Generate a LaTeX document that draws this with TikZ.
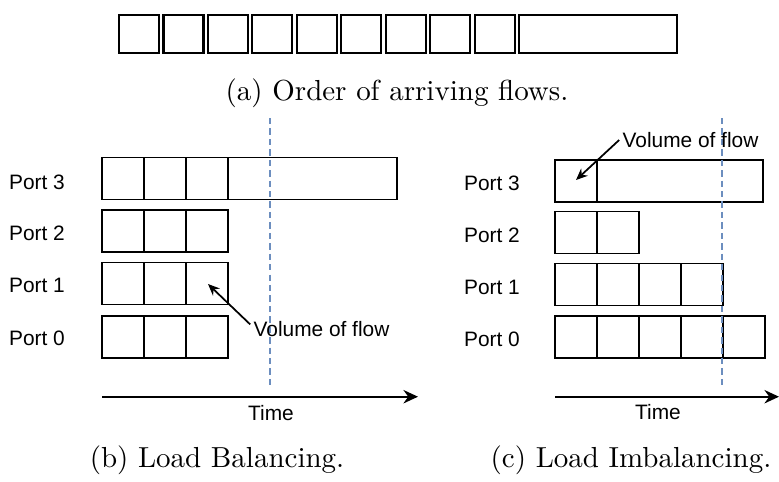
\documentclass[tikz,border=0pt]{standalone}
\usepackage{fontspec}
\usepackage{xcolor}
\newfontfamily\drawfont{Liberation Sans}
\usetikzlibrary{arrows.meta, positioning}
\definecolor{DashBlue}{HTML}{6C8EBF}

\begin{document}
\begin{tikzpicture}[
    x=0.345pt, y=0.345pt,
    >=Stealth,
    flowbox/.style={
        draw=black,
        line width=0.7pt,
        minimum width=13.8pt,
        minimum height=13.1pt,
        inner sep=0pt,
        outer sep=0pt
    },
    cell/.style={
        draw=black,
        line width=0.6pt,
        minimum size=14.5pt,
        inner sep=0pt,
        outer sep=0pt
    },
    portlabel/.style={
        font=\drawfont\fontsize{7.2}{8.6}\selectfont,
        text=black,
        inner sep=0pt
    },
    caption/.style={
        font=\normalsize,
        inner sep=0pt
    },
    timeline/.style={
        line width=0.8pt,
        -{Stealth[length=5pt, width=4.6pt]}
    },
    pointer/.style={
        line width=0.6pt,
        -{Stealth[length=4pt, width=3.4pt]}
    },
    cutline/.style={
        draw=DashBlue,
        line width=0.55pt,
        dash pattern=on 2.2pt off 1.4pt
    }
]
\useasboundingbox (0,0) rectangle (779,481);

% (a) arriving flows
\node[flowbox, anchor=west] (a1) at (119,447) {};
\node[flowbox, right=1.55pt of a1] (a2) {};
\node[flowbox, right=1.55pt of a2] (a3) {};
\node[flowbox, right=1.55pt of a3] (a4) {};
\node[flowbox, right=1.55pt of a4] (a5) {};
\node[flowbox, right=1.55pt of a5] (a6) {};
\node[flowbox, right=1.55pt of a6] (a7) {};
\node[flowbox, right=1.55pt of a7] (a8) {};
\node[flowbox, right=1.55pt of a8] (a9) {};
\node[flowbox, right=1.55pt of a9, minimum width=54.3pt] (a10) {};
\node[caption] (capa) at (397,388) {(a) Order of arriving flows.};

% (b) load balancing
\node[portlabel] (lb3) at (37,299) {Port 3};
\node[portlabel] (lb2) at (37,248) {Port 2};
\node[portlabel] (lb1) at (37,196) {Port 1};
\node[portlabel] (lb0) at (37,143) {Port 0};

\node[cell, anchor=west] (b3a) at (102,302.5) {};
\node[cell, right=0pt of b3a] (b3b) {};
\node[cell, right=0pt of b3b] (b3c) {};
\node[cell, right=0pt of b3c, minimum width=58.3pt] (b3d) {};

\node[cell, anchor=west] (b2a) at (102,250) {};
\node[cell, right=0pt of b2a] (b2b) {};
\node[cell, right=0pt of b2b] (b2c) {};

\node[cell, anchor=west] (b1a) at (102,197.5) {};
\node[cell, right=0pt of b1a] (b1b) {};
\node[cell, right=0pt of b1b] (b1c) {};

\node[cell, anchor=west] (b0a) at (102,144) {};
\node[cell, right=0pt of b0a] (b0b) {};
\node[cell, right=0pt of b0b] (b0c) {};

\coordinate (bcuttop) at (270,363);
\coordinate (bcutbot) at (270,93);
\draw[cutline] (bcuttop) -- (bcutbot);

\node[portlabel] (vb) at (321.5,152) {Volume of flow};
\coordinate (vbtip) at (208,197);
\draw[pointer] ([xshift=-1pt, yshift=1.6pt]vb.west) -- (vbtip);

\coordinate (btstart) at (102,84.3);
\coordinate (btend) at (418,84.3);
\draw[timeline] (btstart) -- (btend);
\node[portlabel] (tb) at (271,68) {Time};
\node[caption] (capb) at (217,21) {(b) Load Balancing.};

% (c) load imbalancing
\node[portlabel] (lc3) at (492,298) {Port 3};
\node[portlabel] (lc2) at (492,246) {Port 2};
\node[portlabel] (lc1) at (492,194) {Port 1};
\node[portlabel] (lc0) at (492,142) {Port 0};

\node[cell, anchor=west] (c3a) at (555,300) {};
\node[cell, right=0pt of c3a, minimum width=57.3pt] (c3b) {};

\node[cell, anchor=west] (c2a) at (555,248.5) {};
\node[cell, right=0pt of c2a] (c2b) {};

\node[cell, anchor=west] (c1a) at (555,196.5) {};
\node[cell, right=0pt of c1a] (c1b) {};
\node[cell, right=0pt of c1b] (c1c) {};
\node[cell, right=0pt of c1c] (c1d) {};

\node[cell, anchor=west] (c0a) at (555,144.3) {};
\node[cell, right=0pt of c0a] (c0b) {};
\node[cell, right=0pt of c0b] (c0c) {};
\node[cell, right=0pt of c0c] (c0d) {};
\node[cell, right=0pt of c0d] (c0e) {};

\coordinate (ccuttop) at (722,363);
\coordinate (ccutbot) at (722,93);
\draw[cutline] (ccuttop) -- (ccutbot);

\node[portlabel, inner sep=1pt] (vc) at (690.5,341) {Volume of flow};
\coordinate (vctip) at (576,301);
\draw[pointer] (vc.west) -- (vctip);

\coordinate (ctstart) at (555,84.3);
\coordinate (ctend) at (779,84.3);
\draw[timeline] (ctstart) -- (ctend);
\node[portlabel] (tc) at (658,69.3) {Time};
\node[caption] (capc) at (631,21) {(c) Load Imbalancing.};

\end{tikzpicture}
\end{document}
